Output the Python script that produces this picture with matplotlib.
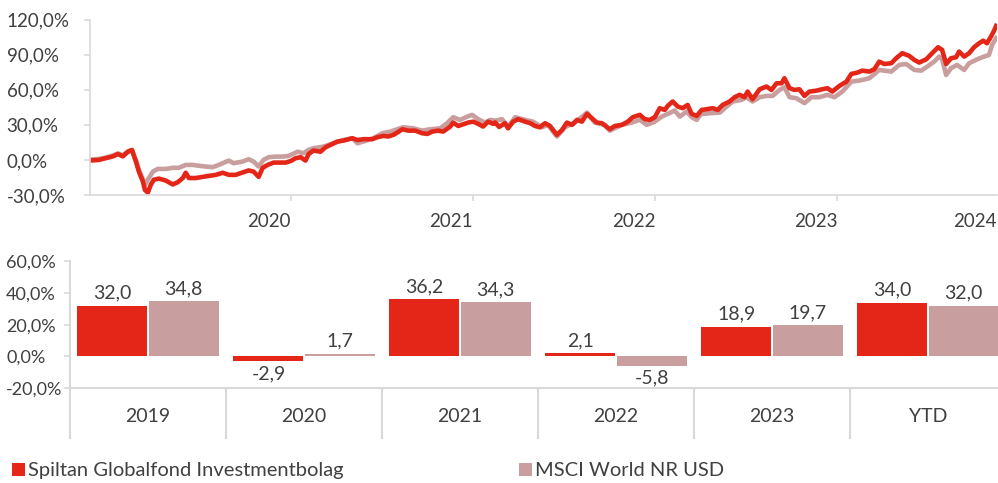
import matplotlib
matplotlib.use("Agg")
import matplotlib.pyplot as plt
from matplotlib.ticker import FuncFormatter
from matplotlib.transforms import ScaledTranslation

plt.rcParams["font.family"] = ["Lato", "DejaVu Sans"]

RED = "#E42618"
PINK = "#C99E9F"
GREY = "#D9D9D9"
TXT = "#404040"

# line chart, cumulative return (%), x in decimal years
fund_t = [2019.905, 2019.949, 2019.987, 2020.026, 2020.053, 2020.080, 2020.108, 2020.130,
          2020.152, 2020.168, 2020.190, 2020.201, 2020.217, 2020.234, 2020.250, 2020.278,
          2020.316, 2020.354, 2020.382, 2020.409, 2020.425, 2020.442, 2020.480, 2020.518,
          2020.551, 2020.590, 2020.628, 2020.661, 2020.699, 2020.737, 2020.770, 2020.797,
          2020.825, 2020.847, 2020.874, 2020.907, 2020.945, 2020.973, 2021.000, 2021.027,
          2021.055, 2021.082, 2021.099, 2021.126, 2021.164, 2021.192, 2021.219, 2021.257,
          2021.290, 2021.339, 2021.367, 2021.400, 2021.449, 2021.476, 2021.509, 2021.536,
          2021.564, 2021.586, 2021.613, 2021.646, 2021.684, 2021.722, 2021.750, 2021.777,
          2021.810, 2021.837, 2021.876, 2021.892, 2021.920, 2021.947, 2021.974, 2022.002,
          2022.029, 2022.056, 2022.084, 2022.111, 2022.122, 2022.144, 2022.177, 2022.193,
          2022.221, 2022.248, 2022.286, 2022.314, 2022.341, 2022.368, 2022.396, 2022.423,
          2022.461, 2022.489, 2022.516, 2022.544, 2022.571, 2022.598, 2022.626, 2022.653,
          2022.680, 2022.708, 2022.751, 2022.779, 2022.817, 2022.850, 2022.877, 2022.916,
          2022.943, 2022.970, 2022.998, 2023.025, 2023.053, 2023.069, 2023.096, 2023.124,
          2023.151, 2023.178, 2023.200, 2023.228, 2023.255, 2023.282, 2023.315, 2023.343,
          2023.370, 2023.408, 2023.436, 2023.463, 2023.490, 2023.507, 2023.534, 2023.573,
          2023.611, 2023.638, 2023.666, 2023.693, 2023.709, 2023.737, 2023.764, 2023.791,
          2023.819, 2023.846, 2023.884, 2023.917, 2023.945, 2023.972, 2024.010, 2024.049,
          2024.076, 2024.109, 2024.136, 2024.175, 2024.202, 2024.229, 2024.257, 2024.295,
          2024.322, 2024.355, 2024.394, 2024.421, 2024.448, 2024.487, 2024.519, 2024.552,
          2024.574, 2024.596, 2024.623, 2024.651, 2024.667, 2024.695, 2024.722, 2024.749,
          2024.777, 2024.799, 2024.820, 2024.842, 2024.859, 2024.870]
fund_v = [-0.5, 0.0, 1.5, 3.0, 5.0, 3.0, 7.0, 8.5,
          -1.5, -10.0, -18.5, -25.6, -28.0, -21.0, -17.0, -16.0,
          -17.7, -21.0, -19.0, -15.5, -11.0, -15.5, -15.5, -14.5,
          -13.7, -12.8, -11.0, -12.8, -12.8, -10.8, -9.0, -10.0,
          -14.5, -6.8, -4.3, -2.3, -2.3, -2.3, -1.0, 1.4,
          2.3, -0.6, 5.0, 8.0, 7.0, 10.8, 12.8, 15.7,
          16.5, 18.5, 17.0, 17.7, 17.7, 19.4, 20.5, 20.0,
          21.4, 23.4, 26.2, 25.0, 25.0, 22.8, 22.2, 24.2,
          25.0, 24.2, 28.5, 31.9, 29.0, 30.5, 31.9, 32.7,
          30.8, 28.5, 32.7, 30.8, 32.0, 28.2, 31.4, 27.0,
          32.7, 34.8, 32.7, 31.4, 29.0, 27.9, 31.4, 29.0,
          21.4, 25.6, 31.9, 29.9, 34.2, 32.7, 39.3, 35.6,
          31.9, 31.4, 26.2, 29.0, 29.9, 32.7, 36.5, 38.5,
          34.8, 34.2, 36.5, 44.2, 42.7, 46.2, 49.9, 45.6,
          44.2, 47.0, 39.3, 37.6, 42.7, 43.3, 44.2, 42.7,
          47.0, 49.9, 53.6, 55.6, 53.6, 58.4, 51.9, 60.4,
          62.7, 59.8, 65.5, 65.5, 69.8, 61.3, 59.8, 60.4,
          54.7, 58.4, 59.2, 60.4, 61.3, 58.4, 63.2, 66.9,
          73.5, 74.6, 76.3, 75.5, 77.5, 84.0, 82.0, 82.6,
          86.9, 91.2, 88.9, 85.5, 83.2, 86.0, 91.2, 96.3,
          94.0, 82.0, 86.9, 87.8, 92.6, 88.3, 91.2, 96.3,
          99.7, 101.9, 99.7, 105.4, 110.5, 114.5]

msci_t = [2019.905, 2019.949, 2019.987, 2020.026, 2020.053, 2020.080, 2020.108, 2020.130,
          2020.152, 2020.168, 2020.190, 2020.201, 2020.217, 2020.245, 2020.272, 2020.316,
          2020.354, 2020.387, 2020.425, 2020.464, 2020.496, 2020.535, 2020.573, 2020.606,
          2020.661, 2020.688, 2020.737, 2020.770, 2020.797, 2020.825, 2020.852, 2020.880,
          2020.918, 2020.956, 2020.989, 2021.000, 2021.022, 2021.038, 2021.071, 2021.099,
          2021.126, 2021.181, 2021.235, 2021.290, 2021.339, 2021.367, 2021.400, 2021.454,
          2021.504, 2021.547, 2021.586, 2021.618, 2021.673, 2021.722, 2021.766, 2021.821,
          2021.859, 2021.892, 2021.930, 2021.969, 2021.996, 2022.029, 2022.067, 2022.095,
          2022.122, 2022.160, 2022.193, 2022.232, 2022.286, 2022.330, 2022.379, 2022.412,
          2022.461, 2022.505, 2022.560, 2022.626, 2022.669, 2022.724, 2022.751, 2022.817,
          2022.872, 2022.916, 2022.954, 2022.998, 2023.036, 2023.069, 2023.107, 2023.135,
          2023.173, 2023.200, 2023.228, 2023.250, 2023.299, 2023.354, 2023.392, 2023.425,
          2023.474, 2023.501, 2023.534, 2023.573, 2023.611, 2023.644, 2023.682, 2023.709,
          2023.737, 2023.775, 2023.819, 2023.857, 2023.901, 2023.945, 2023.983, 2024.027,
          2024.076, 2024.120, 2024.175, 2024.229, 2024.295, 2024.339, 2024.377, 2024.421,
          2024.459, 2024.492, 2024.530, 2024.558, 2024.574, 2024.596, 2024.623, 2024.656,
          2024.695, 2024.722, 2024.766, 2024.804, 2024.831, 2024.848, 2024.870]
msci_v = [0.3, 0.8, 2.0, 3.8, 5.5, 4.0, 7.2, 8.3,
          -0.5, -8.5, -16.5, -21.5, -17.0, -10.0, -7.7, -7.7,
          -6.8, -6.8, -4.3, -4.3, -5.0, -5.7, -6.2, -4.3,
          -0.6, -2.8, -1.4, 0.6, -1.4, -5.7, 0.0, 2.3,
          2.8, 2.8, 3.4, 4.3, 5.7, 7.0, 5.7, 8.5,
          10.0, 11.4, 14.2, 17.0, 18.5, 14.2, 15.7, 18.5,
          22.8, 24.2, 26.2, 27.9, 27.0, 25.0, 26.2, 27.0,
          31.4, 36.5, 34.2, 37.0, 38.5, 34.8, 31.9, 34.2,
          33.6, 34.8, 27.9, 36.5, 34.2, 32.7, 27.9, 29.9,
          20.0, 27.9, 31.9, 40.4, 31.9, 29.9, 25.0, 29.9,
          31.9, 34.2, 29.9, 32.7, 37.0, 39.3, 42.2, 37.0,
          41.3, 36.5, 34.2, 39.0, 39.9, 40.4, 45.6, 49.9,
          51.3, 53.6, 49.9, 53.6, 54.7, 54.7, 59.8, 62.1,
          53.6, 52.7, 48.5, 53.6, 53.6, 55.6, 53.6, 58.4,
          66.9, 67.8, 69.8, 76.9, 75.5, 81.2, 82.0, 76.9,
          76.3, 79.7, 84.0, 88.3, 86.0, 72.6, 78.4, 81.2,
          76.9, 82.6, 86.0, 88.3, 89.7, 98.3, 104.0]

# yearly returns (%)
categories = ["2019", "2020", "2021", "2022", "2023", "YTD"]
fund_yearly = [32.0, -2.9, 36.2, 2.1, 18.9, 34.0]
msci_yearly = [34.8, 1.7, 34.3, -5.8, 19.7, 32.0]

fund_name = "Spiltan Globalfond Investmentbolag"
msci_name = "MSCI World NR USD"


def pct(v, pos):
    return f"{v:.1f}%".replace(".", ",")


fig = plt.figure(figsize=(9.98, 4.83), dpi=100)

###########################################################################
# top: cumulative development
ax1 = fig.add_axes([0.0902, 0.5963, 0.9088, 0.3633])
ax1.plot(msci_t, msci_v, color=PINK, linewidth=3.3, solid_joinstyle="round")
ax1.plot(fund_t, fund_v, color=RED, linewidth=3.3, solid_joinstyle="round")
xmax = 2024.875
ax1.set_xlim(2019.9, xmax)
ax1.set_ylim(-30, 120)
ax1.set_yticks([-30, 0, 30, 60, 90, 120])
ax1.yaxis.set_major_formatter(FuncFormatter(pct))
ax1.set_xticks([2021, 2022, 2023, 2024, xmax])
ax1.set_xticklabels(["2020", "2021", "2022", "2023", "2024"], ha="right")
ax1.xaxis.get_major_ticks()[-1].tick1line.set_visible(False)
shift = ScaledTranslation(-4 / 72, 0, fig.dpi_scale_trans)
for lab in ax1.get_xticklabels()[:-1]:
    lab.set_transform(lab.get_transform() + shift)
for s in ["top", "right"]:
    ax1.spines[s].set_visible(False)
for s in ["left", "bottom"]:
    ax1.spines[s].set_color(GREY)
    ax1.spines[s].set_linewidth(1.2)
ax1.tick_params(axis="x", length=4, width=1.2, color=GREY, pad=9,
                labelsize=13.5, labelcolor=TXT)
ax1.tick_params(axis="y", length=4, width=1.2, color=GREY, pad=56,
                labelsize=13.5, labelcolor=TXT)
for lab in ax1.get_yticklabels():
    lab.set_horizontalalignment("left")

###########################################################################
# bottom: yearly returns
ax2 = fig.add_axes([0.0701, 0.1963, 0.9379, 0.2625])
pos = list(range(len(categories)))
w = 0.449
off = 0.228
b1 = ax2.bar([p - off for p in pos], fund_yearly, width=w, color=RED,
             linewidth=0, label=fund_name)
b2 = ax2.bar([p + off for p in pos], msci_yearly, width=w, color=PINK,
             linewidth=0, label=msci_name)
for bars in (b1, b2):
    ax2.bar_label(bars, labels=[f"{v:.1f}".replace(".", ",") for v in bars.datavalues],
                  padding=3, fontsize=14, color=TXT)
ax2.set_xlim(-0.5, 5.5)
ax2.set_ylim(-20, 60)
ax2.set_yticks([-20, 0, 20, 40, 60])
ax2.yaxis.set_major_formatter(FuncFormatter(pct))
# category separators as long ticks, names as minor ticks
ax2.set_xticks([p - 0.5 for p in range(len(categories) + 1)])
ax2.set_xticklabels([])
ax2.set_xticks(pos, minor=True)
ax2.set_xticklabels(categories, minor=True)
ax2.tick_params(axis="x", which="major", length=37, width=1.5, color=GREY)
ax2.tick_params(axis="x", which="minor", length=0, pad=14, labelsize=14,
                labelcolor=TXT)
for s in ["top", "right"]:
    ax2.spines[s].set_visible(False)
for s in ["left", "bottom"]:
    ax2.spines[s].set_color(GREY)
    ax2.spines[s].set_linewidth(1.5)
ax2.tick_params(axis="y", length=4, width=1.2, color=GREY, pad=42,
                labelsize=13, labelcolor=TXT)
for lab in ax2.get_yticklabels():
    lab.set_horizontalalignment("left")

###########################################################################
# legend
fig.legend(handles=[b1, b2], loc="center left", bbox_to_anchor=(0.0, 0.025),
           ncol=2, frameon=False, fontsize=14.5, labelcolor=TXT,
           handlelength=0.65, handleheight=0.65, handletextpad=0.15,
           columnspacing=8.7, borderaxespad=0.2)

fig.savefig("out.png", dpi=100)
